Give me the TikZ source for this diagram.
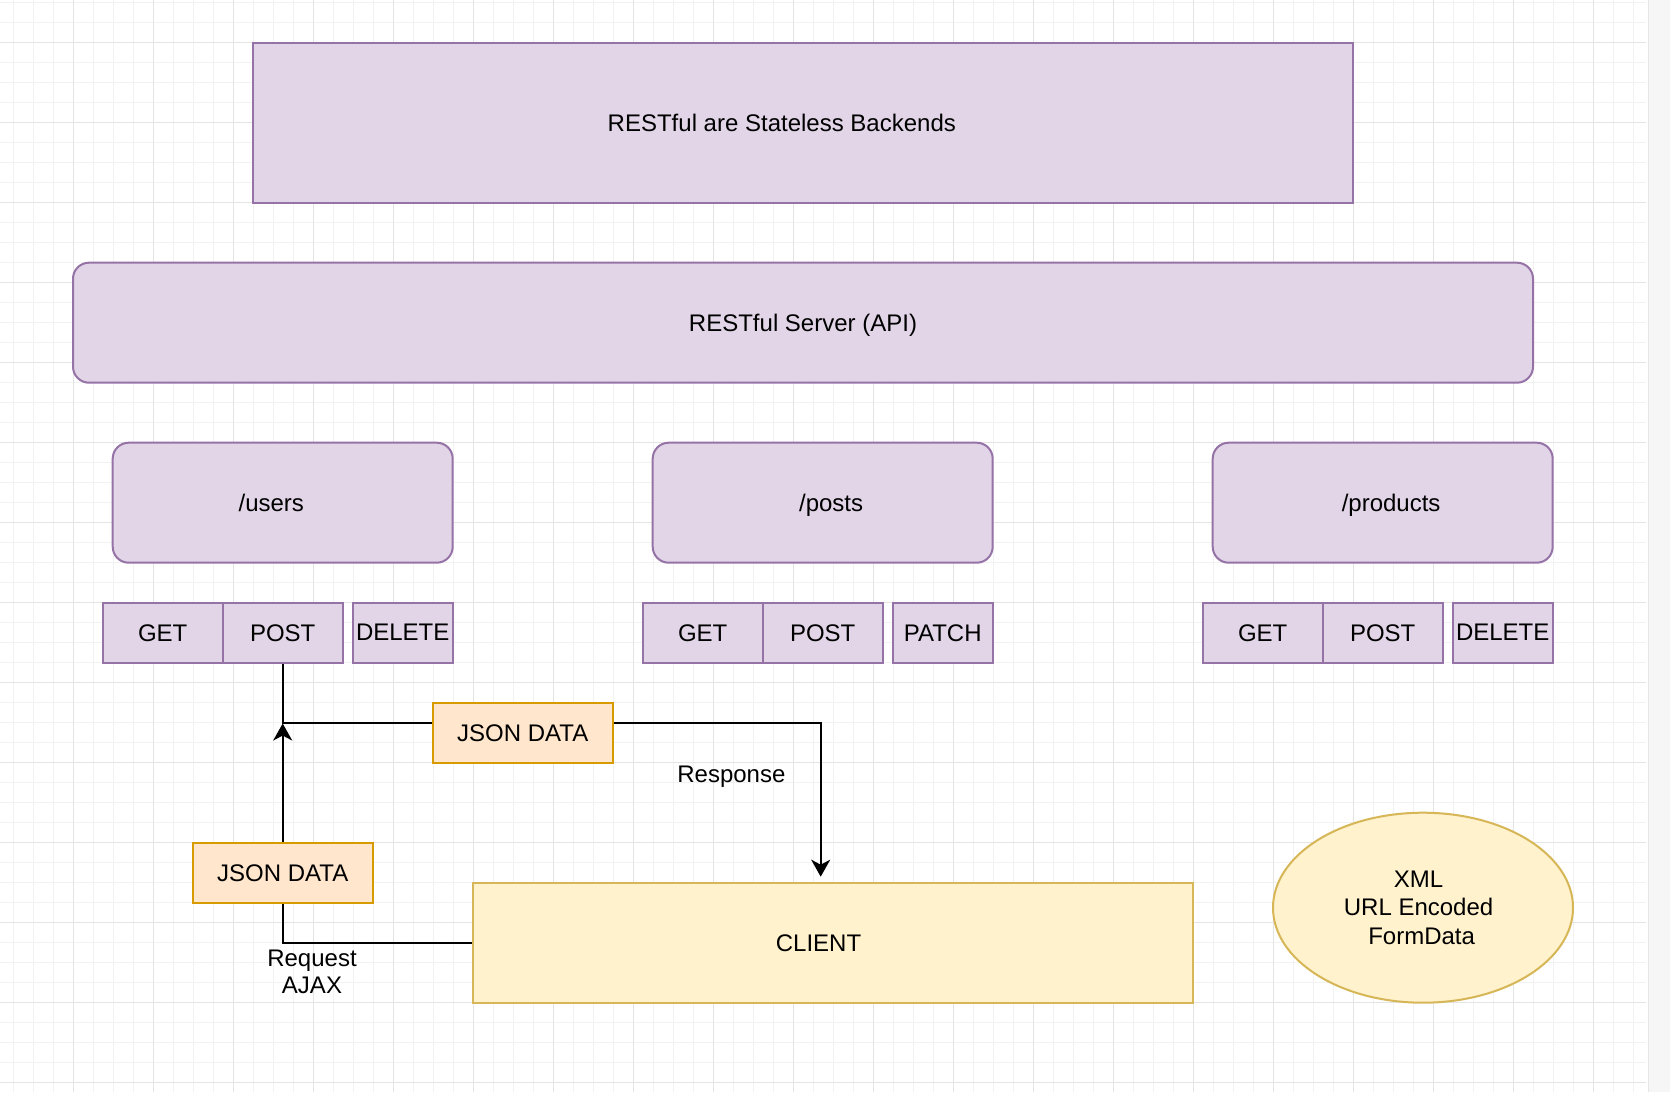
\documentclass[tikz,border=0pt]{standalone}
\usepackage{fontspec}
\setmainfont{Liberation Sans}
\usetikzlibrary{arrows.meta,shapes.geometric}
\definecolor{purF}{HTML}{E1D5E7}
\definecolor{purD}{HTML}{9673A6}
\definecolor{orgF}{HTML}{FFE6CC}
\definecolor{orgD}{HTML}{D79B00}
\definecolor{yelF}{HTML}{FFF2CC}
\definecolor{yelD}{HTML}{D6B656}
\definecolor{gridmin}{HTML}{F2F2F2}
\definecolor{gridmaj}{HTML}{E4E4E4}
\definecolor{stripF}{HTML}{F6F6F6}
\definecolor{stripD}{HTML}{E6E6E6}
\tikzset{
  minorline/.style={draw=gridmin, line width=0.5pt},
  majorline/.style={draw=gridmaj, line width=0.5pt},
  sz/.style 2 args={minimum width=#1*0.5pt, minimum height=#2*0.5pt},
  base/.style={rectangle, line width=1pt, inner sep=0pt, text=black, text depth=0pt},
  purbox/.style={base, draw=purD, fill=purF},
  rnd/.style={rounded corners=8pt},
  orgbox/.style={base, draw=orgD, fill=orgF},
  yelbox/.style={base, draw=yelD, fill=yelF},
  conn/.style={line width=1pt, draw=black},
  arr/.style={conn, -{Stealth[length=8.5pt,width=9.5pt,inset=2.5pt]}},
  plain/.style={inner sep=0pt, text=black},
  flat/.style={plain, text depth=0pt}
}
\begin{document}
\begin{tikzpicture}[x=0.5pt,y=-0.5pt,font=\fontsize{12}{14.2}\selectfont]
\useasboundingbox (0,0) rectangle (1670,1092);
\fill[white] (0,0) rectangle (1670,1092);
% grid
\foreach \i in {0,...,81} \draw[minorline] (13+20*\i,0) -- (13+20*\i,1092);
\foreach \i in {0,...,54} \draw[minorline] (0,2.7+20*\i) -- (1646,2.7+20*\i);
\foreach \i in {0,...,19} \draw[majorline] (73+80*\i,0) -- (73+80*\i,1092);
\foreach \i in {0,...,13} \draw[majorline] (0,42.7+80*\i) -- (1646,42.7+80*\i);
\fill[stripF] (1648,0) rectangle (1670,1092);
\draw[stripD, line width=0.5pt] (1648,0) -- (1648,1092);

% top boxes
\node[purbox, sz={1100}{160}, label={[flat,xshift=-10.6pt]center:RESTful are Stateless Backends}] (top) at (803,122.7) {};
\node[purbox, rnd, sz={1460}{120}] (server) at (803,322.7) {RESTful Server (API)};

% resources
\node[purbox, rnd, sz={340}{120}, label={[flat,xshift=-5.7pt]center:/users}] (users) at (282.7,502.7) {};
\node[purbox, rnd, sz={340}{120}, label={[flat,xshift=4.2pt]center:/posts}] (posts) at (822.7,502.7) {};
\node[purbox, rnd, sz={340}{120}, label={[flat,xshift=4.2pt]center:/products}] (products) at (1382.7,502.7) {};

% methods
\node[purbox, sz={120}{60}] (uget) at (162.7,632.7) {GET};
\node[purbox, sz={120}{60}] (upost) at (282.7,632.7) {POST};
\node[purbox, sz={100}{60}] (udel) at (402.7,632.7) {DELETE};
\node[purbox, sz={120}{60}] (pget) at (702.7,632.7) {GET};
\node[purbox, sz={120}{60}] (ppost) at (822.7,632.7) {POST};
\node[purbox, sz={100}{60}] (ppatch) at (942.7,632.7) {PATCH};
\node[purbox, sz={120}{60}] (rget) at (1262.7,632.7) {GET};
\node[purbox, sz={120}{60}] (rpost) at (1382.7,632.7) {POST};
\node[purbox, sz={100}{60}] (rdel) at (1502.7,632.7) {DELETE};

% data boxes
\node[orgbox, sz={180}{60}] (jresp) at (522.7,732.7) {JSON DATA};
\node[orgbox, sz={180}{60}] (jreq) at (282.7,872.7) {JSON DATA};
\node[yelbox, sz={720}{120}, label={[flat,xshift=-7.25pt]center:CLIENT}] (client) at (833,942.7) {};
\node[ellipse, line width=1pt, draw=yelD, fill=yelF, inner sep=0pt, sz={300}{190},
      label={[plain,align=center,xshift=-2.2pt]center:XML\\URL Encoded\\\hspace{3pt}FormData}] (formats) at (1423,907.7) {};

% connectors
\coordinate (reqtip) at (282.7,723.5);
\coordinate (resptip) at (820.7,876.7);
\draw[conn] (client.west) -| (jreq.south);
\draw[arr] (jreq.north) -- (reqtip);
\draw[conn] (upost.south) |- ([yshift=5pt]jresp.west);
\draw[arr] ([yshift=5pt]jresp.east) -| (resptip);

% labels
\node[plain, anchor=base] (resplabel) at (731.4,782) {Response};
\node[plain, anchor=north, align=center, font=\fontsize{12}{13.3}\selectfont] (reqlabel) at (312,950) {Request\\AJAX};
\end{tikzpicture}
\end{document}
